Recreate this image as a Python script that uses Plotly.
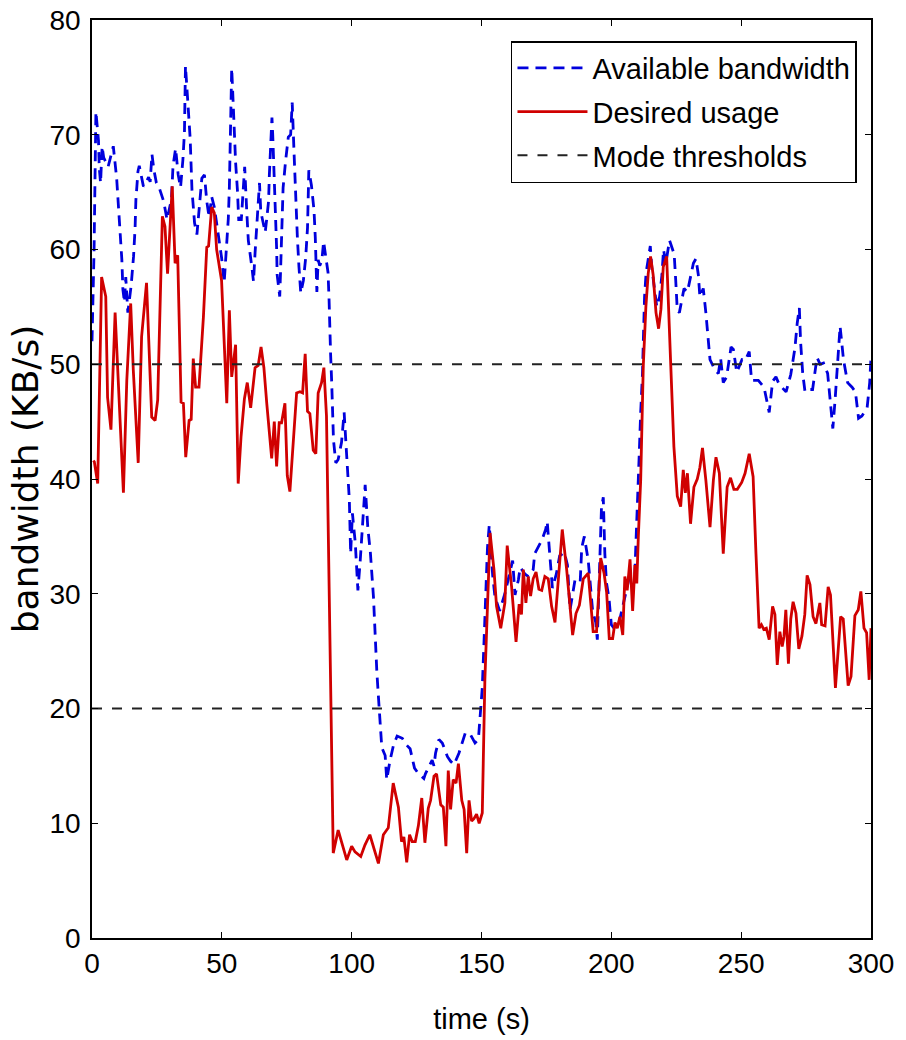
import plotly.graph_objects as go

# ---- Data ----
t_avail = [0, 0.8, 1.5, 2.5, 2.8, 3.3, 3.9, 4.5, 6.2, 8.2, 9.5, 10.1, 10.8, 11.5, 11.9, 12.5, 13.0, 13.8,
           15.1, 16.0, 16.6, 16.9, 17.7, 18.2, 19.8, 20.5, 21.8, 22.4, 23.1, 23.8, 24.8, 26.0, 27.6, 28.9,
           30.6, 31.2, 32.2, 33.2, 34.1, 35.0, 35.6, 36.0, 36.6, 37.2, 37.8, 38.5, 39.5, 40.4, 41.3, 42.3,
           43.3, 44.2, 45.1, 46.1, 47.1, 48.6, 49.9, 50.9, 51.8, 52.5, 52.9, 53.1, 53.5, 53.8, 54.4, 54.8,
           55.3, 56.0, 56.5, 57.5, 58.1, 58.8, 59.6, 60.2, 61.6, 62.2, 62.8, 63.4, 64.1, 64.5, 65.0, 66.7,
           67.3, 68.0, 68.3, 68.9, 69.3, 69.6, 70.0, 70.4, 70.8, 71.1, 71.3, 72.3, 72.6, 73.0, 73.2, 73.6,
           74.5, 75.6, 76.5, 77.1, 77.8, 78.2, 78.7, 79.1, 79.7, 80.4, 81.4, 82.3, 83.0, 83.2, 83.5, 84.5,
           85.5, 86.0, 86.2, 86.6, 87.1, 87.7, 88.5, 89.2, 90.0, 90.9, 91.3, 91.5, 91.9, 92.3, 92.6, 93.0,
           93.9, 94.8, 96.1, 97.1, 97.8, 98.4, 99.1, 99.6, 100.3, 101.4, 102.4, 103.3, 104.2, 105.2, 106.2,
           107.2, 108.4, 109.1, 109.7, 110.4, 111.0, 111.6, 112.9, 113.5, 114.8, 116.1, 117.5, 119.5, 121.2,
           122.5, 124.2, 125.8, 127.8, 128.4, 131.0, 131.7, 132.3, 133.6, 134.9, 136.9, 138.1, 139.4, 141.3,
           143.8, 145.8, 147.5, 148.8, 149.7, 150.3, 151.0, 151.6, 152.3, 153.0, 154.3, 155.2, 157.0, 159.0,
           160.5, 162.0, 162.9, 164.2, 164.9, 166.8, 168.1, 169.9, 170.5, 171.4, 172.3, 173.3, 174.7, 175.3,
           176.4, 177.3, 178.8, 180.1, 181.9, 183.1, 184.1, 186.0, 188.0, 188.6, 189.6, 191.1, 192.8, 194.0,
           194.6, 195.5, 196.2, 196.9, 197.5, 198.1, 199.1, 200.0, 201.0, 203.0, 205.0, 207.0, 209.0, 210.4,
           210.8, 211.3, 212.0, 212.4, 212.8, 213.4, 215.0, 215.6, 217.5, 218.6, 219.5, 220.1, 221.0, 222.4,
           224.2, 224.8, 225.4, 226.2, 227.1, 228.0, 229.3, 231.6, 232.6, 233.5, 234.1, 235.4, 236.4, 237.3,
           238.0, 239.9, 241.2, 242.1, 243.1, 244.4, 246.1, 247.0, 248.3, 250.3, 251.5, 253.1, 254.0, 256.6,
           258.3, 258.8, 260.8, 262.1, 263.4, 264.7, 265.6, 267.3, 269.1, 270.0, 270.7, 271.6, 272.4, 272.9,
           273.7, 274.6, 276.3, 277.5, 279.2, 280.4, 281.7, 283.3, 284.5, 285.3, 286.2, 286.8, 287.5, 288.1,
           289.4, 291.0, 292.7, 294.0, 295.2, 296.5, 298.5, 299.5, 300.0]
bw_avail = [52, 60, 72, 69.5, 67.1, 65.8, 69.0, 68.0, 67.2, 69.0, 66.2, 64.0, 61.7, 59.1, 56.5, 55.4, 57.6, 54.5,
            56.9, 59.4, 61.9, 64.3, 66.8, 67.3, 65.5, 65.7, 66.3, 65.9, 68.3, 67.0, 65.8, 65.3, 64.2, 62.6,
            64.4, 67.3, 68.8, 66.5, 65.4, 67.8, 70.2, 76.0, 73.9, 72.2, 69.7, 65.2, 62.3, 61.3, 63.7, 66.2,
            66.5, 64.2, 62.8, 64.6, 63.7, 61.2, 59.3, 57.1, 60.4, 62.7, 65.4, 68.5, 72.0, 75.8, 72.6, 70.0,
            67.6, 65.2, 62.6, 62.6, 64.7, 67.2, 63.3, 60.8, 58.4, 57.2, 59.7, 62.1, 64.6, 65.8, 63.3, 61.5,
            62.7, 64.2, 66.5, 69.1, 71.5, 70.0, 67.6, 65.2, 62.7, 60.1, 57.8, 55.9, 58.0, 60.4, 63.0, 65.4,
            67.6, 69.8, 70.0, 72.8, 68.5, 65.8, 63.3, 61.0, 58.5, 56.2, 57.3, 59.3, 61.9, 64.3, 66.9, 65.6,
            63.4, 61.0, 58.6, 56.3, 59.1, 58.6, 59.0, 60.7, 59.4, 58.0, 55.6, 53.2, 50.8, 48.5, 46.0, 43.4,
            41.4, 41.7, 43.2, 45.8, 43.1, 40.5, 38.2, 33.5, 37.0, 34.4, 30.3, 32.9, 36.0, 39.5, 35.8,
            33.6, 29.7, 26.0, 23.2, 20.7, 18.4, 16.6, 15.9, 13.8, 15.5, 16.8, 17.6, 17.4, 16.8,
            16.5, 14.8, 14.3, 13.9, 14.3, 15.5, 15.0, 16.1, 17.3, 17.0, 15.8, 15.4, 15.1, 16.1,
            17.9, 17.7, 17.0, 17.3, 19.6, 21.8, 26.0, 30.5, 34.0, 36.0, 31.6, 29.7, 28.5, 30.0,
            31.5, 32.9, 29.9, 31.2, 32.3, 31.7, 31.5, 32.1, 33.5, 33.9, 34.2, 34.7, 35.6, 36.3,
            33.1, 30.5, 31.7, 33.3, 33.6, 32.5, 28.6, 31.2, 31.0, 34.0, 35.0, 32.9, 28.5, 27.5,
            26.0, 33.5, 37.5, 38.4, 33.5, 31.0, 29.6, 27.3, 27.0, 27.5, 29.5, 31.5, 31.5, 39.2,
            42.5, 45.8, 49.2, 52.7, 55.9, 58.0, 60.3, 58.4, 55.0, 55.9, 57.8, 60.0, 58.8, 60.8,
            59.6, 57.3, 54.7, 54.5, 55.6, 56.6, 56.3, 58.8, 59.2, 57.8, 55.9, 56.6, 54.5, 51.9,
            50.4, 49.5, 49.2, 50.5, 48.4, 48.9, 51.5, 51.3, 49.3, 50.4, 50.3, 51.1, 48.6, 48.6,
            48.2, 48.0, 45.8, 48.5, 48.9, 48.2, 48.0, 47.6, 49.1, 50.2, 51.4, 53.6, 54.9, 51.9,
            49.2, 47.6, 47.8, 47.8, 50.6, 50.0, 50.1, 49.2, 46.6, 44.4, 47.0, 49.2, 51.5, 53.3,
            50.4, 48.4, 48.0, 47.6, 45.3, 45.5, 46.2, 48.4, 50.6]

t_desired = [0.5, 0.9, 2.2, 3.7, 5.3, 6.0, 7.3, 8.9, 12.1, 13.4, 14.9, 15.9, 17.8, 19.1, 21.0, 23.0, 24.3,
             25.3, 27.1, 28.1, 29.1, 30.9, 32.0, 33.0, 34.3, 35.2, 36.1, 37.4, 38.2, 39.0, 39.9, 41.2, 42.9,
             44.2, 44.9, 46.1, 47.1, 48.0, 49.9, 51.9, 52.9, 53.8, 55.3, 56.3, 57.4, 58.7, 59.8, 61.1, 62.8,
             64.0, 65.1, 66.2, 67.3, 68.5, 69.2, 70.2, 71.1, 72.1, 73.0, 74.3, 75.2, 76.2, 77.5, 78.8, 80.1,
             81.1, 82.1, 83.0, 83.9, 85.2, 86.2, 87.1, 88.4, 89.3, 90.3, 92.9, 94.8, 96.1, 98.1, 100.0, 101.3,
             103.5, 105.1, 107.0, 108.3, 110.3, 112.2, 114.1, 116.0, 118.0, 119.2, 120.1, 121.2, 122.3, 123.3,
             124.5, 125.7, 127.0, 128.2, 129.5, 130.4, 131.7, 132.7, 134.3, 135.3, 136.3, 137.2, 138.1, 139.1,
             140.2, 141.1, 142.4, 143.3, 144.3, 145.2, 146.2, 147.1, 148.1, 149.1, 150.3, 151.3, 153.3, 154.8,
             155.8, 157.4, 159.0, 159.9, 161.6, 163.3, 164.5, 165.4, 166.1, 167.1, 168.0, 168.9, 169.9, 171.0,
             172.1, 173.2, 174.4, 175.7, 177.0, 178.3, 179.6, 181.1, 182.8, 184.1, 185.1, 186.4, 187.7, 189.2,
             191.1, 192.0, 193.0, 194.3, 195.9, 197.2, 198.2, 199.2, 200.5, 201.4, 202.3, 203.3, 204.4, 205.2,
             206.1, 207.2, 208.2, 209.1, 209.8, 210.4, 211.3, 212.3, 213.3, 214.2, 215.1, 216.1, 217.2, 218.2,
             219.1, 220.0, 221.3, 222.8, 224.1, 225.4, 226.7, 227.7, 228.5, 229.3, 230.5, 231.8, 233.1, 234.1,
             235.1, 236.4, 238.0, 239.3, 240.3, 241.6, 243.1, 244.6, 245.9, 247.2, 248.5, 250.2, 251.5, 253.1,
             254.6, 255.7, 256.9, 257.8, 258.7, 259.7, 260.8, 262.1, 263.0, 263.9, 264.9, 265.8, 266.5, 267.2,
             268.2, 269.1, 270.0, 271.1, 272.2, 273.4, 274.5, 275.4, 276.5, 277.7, 278.8, 280.3, 281.0, 282.3,
             283.5, 284.4, 286.3, 288.3, 289.3, 291.2, 292.3, 293.8, 295.1, 296.1, 297.3, 298.3, 299.3, 300.0]
bw_desired = [41.6, 41.5, 39.6, 57.6, 55.9, 47.1, 44.3, 54.5, 38.8, 48.6, 55.3, 49.5, 41.4, 52.4, 57.1, 45.4, 45.1,
              46.9, 62.9, 62.0, 57.9, 65.5, 58.8, 59.5, 46.7, 46.6, 41.9, 45.1, 45.2, 50.5, 48.0, 48.0, 54.1,
              60.2, 60.3, 63.7, 63.2, 60.0, 57.3, 46.6, 54.7, 48.9, 51.7, 39.6, 43.7, 47.0, 48.4, 46.2, 49.7,
              49.9, 51.5, 49.7, 46.6, 43.1, 41.8, 45.0, 41.1, 44.9, 44.9, 46.6, 40.3, 38.9, 43.1, 47.5, 47.6,
              47.5, 50.9, 45.9, 45.7, 42.5, 42.2, 47.5, 48.4, 49.7, 45.5, 7.4, 9.4, 8.3, 6.8, 8.0, 7.5,
              7.1, 8.1, 9.0, 8.0, 6.5, 9.0, 9.6, 13.5, 11.4, 8.4, 8.8, 6.6, 9.0, 8.4,
              8.4, 9.8, 12.2, 8.3, 11.3, 12.0, 14.1, 14.3, 11.6, 11.4, 8.0, 14.6, 11.2, 13.8,
              13.5, 15.2, 12.0, 11.2, 7.4, 12.0, 10.2, 10.4, 10.8, 10.0, 10.9, 22.5, 35.3, 32.1,
              28.9, 27.0, 29.2, 34.2, 30.6, 25.8, 29.1, 28.2, 32.1, 29.2, 31.5, 29.8, 31.3, 31.9,
              30.4, 30.3, 31.5, 31.3, 28.9, 27.5, 31.2, 35.6, 32.1, 28.6, 26.4, 28.3, 29.0, 31.3,
              31.8, 29.4, 26.7, 26.7, 33.1, 31.8, 30.1, 26.1, 26.1, 27.5, 27.0, 28.0, 26.4, 31.5,
              30.3, 33.0, 28.5, 32.5, 30.9, 35.0, 39.9, 49.8, 55.0, 57.9, 59.4, 57.8, 54.5, 53.1,
              54.8, 58.5, 59.4, 50.4, 42.8, 38.5, 37.6, 40.8, 38.8, 40.5, 36.1, 39.3, 40.0, 41.0,
              42.7, 39.9, 35.8, 39.9, 41.9, 40.5, 33.5, 39.3, 40.1, 39.1, 39.1, 39.7, 40.5, 42.2,
              40.2, 33.5, 27.0, 27.3, 26.9, 27.0, 26.0, 28.9, 28.2, 23.8, 26.7, 25.4, 26.3, 28.6,
              23.9, 27.8, 29.3, 28.3, 25.2, 26.3, 28.2, 31.6, 30.8, 28.0, 27.4, 29.2, 27.3, 27.2,
              30.6, 29.9, 21.8, 28.0, 27.8, 22.0, 22.8, 28.1, 28.6, 30.2, 27.0, 26.6, 22.5, 27.0]

thresholds = [50, 20]
x_range = [0, 300]
y_range = [0, 80]
x_ticks = [0, 50, 100, 150, 200, 250, 300]
y_ticks = [0, 10, 20, 30, 40, 50, 60, 70, 80]

SANS = "Liberation Sans, Arial, sans-serif"

fig = go.Figure()
fig.add_trace(go.Scatter(
    x=t_avail, y=bw_avail, mode="lines", name="Available bandwidth", legendgroup="a",
    line=dict(color="#0000DD", width=2.8, dash="11px,7px"),
))
fig.add_trace(go.Scatter(
    x=t_desired, y=bw_desired, mode="lines", name="Desired usage", legendgroup="b",
    line=dict(color="#D00000", width=2.8),
))
thr_x, thr_y = [], []
for v in thresholds:
    thr_x += [x_range[0], x_range[1], None]
    thr_y += [v, v, None]
fig.add_trace(go.Scatter(
    x=thr_x, y=thr_y, mode="lines", name="Mode thresholds", legendgroup="c",
    line=dict(color="#222222", width=2, dash="10px,10px"),
))

axis_common = dict(
    showgrid=False, zeroline=False, showline=True, linecolor="black", linewidth=1.5,
    mirror="ticks", ticks="inside", ticklen=6, tickwidth=1.2, tickcolor="black",
    tickfont=dict(family=SANS, size=28, color="black"),
)
fig.update_xaxes(
    range=x_range, tickvals=x_ticks, ticktext=[str(v) for v in x_ticks],
    title=dict(text="time (s)", font=dict(family=SANS, size=29, color="black"), standoff=30),
    ticklabelstandoff=0,
    **axis_common,
)
fig.update_yaxes(
    range=y_range, tickvals=y_ticks, ticktext=[str(v) for v in y_ticks],
    title=dict(text="bandwidth (KB/s)", font=dict(family="DejaVu Sans, sans-serif", size=36, color="black"), standoff=0),
    ticklabelstandoff=4,
    **axis_common,
)
fig.update_layout(
    width=906, height=1040,
    margin=dict(l=92, r=35, t=20, b=102, autoexpand=False),
    paper_bgcolor="white", plot_bgcolor="white",
    showlegend=True,
    legend=dict(
        x=0.982, y=0.977, xanchor="right", yanchor="top",
        bgcolor="white", bordercolor="black", borderwidth=1.5,
        font=dict(family=SANS, size=29, color="black"),
        itemwidth=70, tracegroupgap=3,
    ),
)
fig.write_html("out.html")
